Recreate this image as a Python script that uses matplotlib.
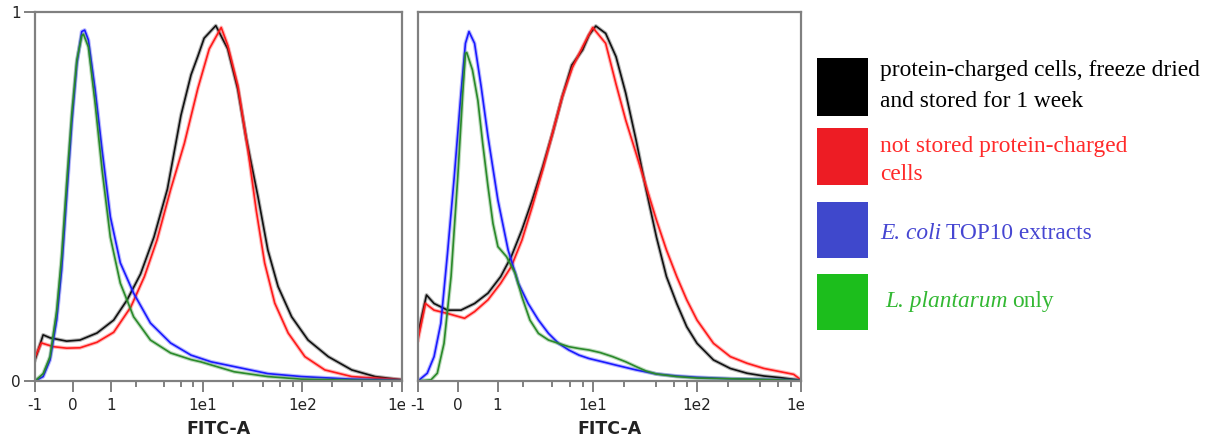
import matplotlib
matplotlib.use("Agg")
import matplotlib.pyplot as plt
import numpy as np
from matplotlib.patches import Rectangle
from matplotlib.transforms import Bbox, TransformedBbox

W, H = 1210, 442

"""FITC-A histograms (normalised counts), first sample set"""
a_black_x = [-1, -0.75, -0.56, -0.15, 0.16, 0.58, 1.08, 1.6, 2.27, 3.16, 4.36, 6.0, 7.6, 8.9, 10.3, 13.5,
             17.8, 22.5, 27.3, 35.8, 45, 57, 78, 114, 182, 313, 537, 1000]
a_black_y = [0.057, 0.125, 0.117, 0.108, 0.111, 0.130, 0.165, 0.22, 0.29, 0.39, 0.52, 0.72, 0.83, 0.88, 0.929,
             0.963, 0.90, 0.79, 0.658, 0.50, 0.355, 0.256, 0.174, 0.111, 0.066, 0.030, 0.012, 0.003]
a_red_x = [-1, -0.8, -0.47, -0.15, 0.16, 0.58, 1.08, 1.76, 2.5, 3.4, 4.7, 6.5, 8.9, 11.6, 15.3, 17.8, 22.5,
           28.4, 34.4, 41.8, 52.8, 72, 106, 168, 313, 1000]
a_red_y = [0.065, 0.103, 0.093, 0.089, 0.090, 0.105, 0.132, 0.20, 0.283, 0.382, 0.518, 0.644, 0.793, 0.90,
           0.958, 0.91, 0.80, 0.626, 0.463, 0.32, 0.211, 0.13, 0.066, 0.03, 0.012, 0.003]
a_blue_x = [-1, -0.75, -0.56, -0.39, -0.27, -0.15, -0.03, 0.086, 0.2, 0.27, 0.36, 0.53, 0.72, 0.97, 1.32,
            1.9, 2.9, 4.7, 7.6, 12.1, 20.7, 45, 98, 313, 1000]
a_blue_y = [0, 0.012, 0.057, 0.165, 0.30, 0.50, 0.70, 0.86, 0.947, 0.951, 0.924, 0.79, 0.626, 0.445, 0.32,
            0.238, 0.157, 0.103, 0.07, 0.052, 0.039, 0.02, 0.012, 0.005, 0.001]
a_green_x = [-1, -0.75, -0.56, -0.39, -0.27, -0.15, -0.03, 0.086, 0.2, 0.24, 0.36, 0.53, 0.72, 0.97, 1.32,
             1.9, 2.9, 4.7, 7.6, 9.5, 20.7, 45, 98, 313, 1000]
a_green_y = [0, 0.02, 0.066, 0.19, 0.337, 0.536, 0.726, 0.87, 0.935, 0.94, 0.905, 0.753, 0.572, 0.39, 0.265,
             0.174, 0.111, 0.076, 0.058, 0.052, 0.025, 0.012, 0.005, 0.002, 0.001]

"""second sample set"""
b_black_x = [-1, -0.75, -0.55, -0.23, 0.07, 0.38, 0.72, 1.1, 1.48, 1.95, 2.5, 3.2, 4.0, 5.0, 6.2, 7.9, 9.1,
             10.6, 13.2, 16.6, 20.6, 25.9, 32.4, 40.7, 50.8, 63.8, 79.6, 100, 144, 209, 303, 440, 637, 1000]
b_black_y = [0.129, 0.233, 0.21, 0.192, 0.192, 0.21, 0.238, 0.283, 0.337, 0.41, 0.49, 0.58, 0.67, 0.77, 0.856,
             0.897, 0.937, 0.962, 0.942, 0.879, 0.78, 0.653, 0.518, 0.39, 0.283, 0.21, 0.147, 0.102, 0.057,
             0.034, 0.021, 0.0135, 0.009, 0.002]
b_red_x = [-1, -0.78, -0.55, -0.23, 0.15, 0.38, 0.72, 1.1, 1.48, 1.95, 2.5, 3.2, 4.0, 5.0, 6.3, 7.9, 9.9,
           13.2, 16.6, 20.6, 25.9, 32.4, 40.7, 50.8, 63.8, 79.6, 100, 144, 209, 303, 440, 637, 850, 1000]
b_red_y = [0.111, 0.21, 0.192, 0.183, 0.17, 0.188, 0.22, 0.265, 0.31, 0.382, 0.472, 0.572, 0.67, 0.77, 0.85,
           0.906, 0.958, 0.915, 0.805, 0.707, 0.617, 0.527, 0.436, 0.355, 0.283, 0.22, 0.165, 0.102, 0.066,
           0.048, 0.034, 0.025, 0.018, 0.003]
b_blue_x = [-1, -0.73, -0.55, -0.385, -0.23, -0.078, 0.071, 0.17, 0.25, 0.38, 0.54, 0.72, 1.01, 1.36, 1.78,
            2.27, 2.9, 3.66, 4.6, 5.8, 7.3, 9.1, 13.2, 16.6, 25.9, 40.7, 63.8, 100, 209, 440, 1000]
b_blue_y = [0, 0.021, 0.066, 0.156, 0.346, 0.554, 0.78, 0.915, 0.947, 0.915, 0.798, 0.662, 0.49, 0.355, 0.265,
            0.21, 0.165, 0.129, 0.102, 0.084, 0.07, 0.061, 0.05, 0.043, 0.03, 0.019, 0.0135, 0.01, 0.006,
            0.004, 0.001]
b_green_x = [-1, -0.63, -0.47, -0.31, -0.15, 0.0, 0.11, 0.17, 0.2, 0.33, 0.46, 0.58, 0.72, 0.86, 1.01, 1.3,
             1.64, 1.95, 2.37, 2.9, 3.66, 4.6, 5.8, 7.3, 9.1, 11.7, 15.4, 20.6, 25.9, 32.4, 40.7, 63.8, 100,
             209, 440, 1000]
b_green_y = [0, 0.003, 0.021, 0.102, 0.283, 0.554, 0.78, 0.888, 0.89, 0.843, 0.76, 0.644, 0.527, 0.427,
             0.364, 0.337, 0.292, 0.228, 0.165, 0.129, 0.111, 0.102, 0.093, 0.088, 0.084, 0.077, 0.066,
             0.052, 0.039, 0.027, 0.019, 0.012, 0.008, 0.006, 0.004, 0.001]

major_ticks = [-1, 0, 1, 10, 100, 1000]
major_labels = ["-1", "0", "1", "1e1", "1e2", "1e3"]
minor_ticks = [2, 4, 6, 8, 20, 40, 60, 80, 200, 400, 600, 800]

# legend entries: italic species name (if any) followed by plain text lines
legend_italic = ["", "", "E. coli", "L. plantarum"]
legend_plain = [["protein-charged cells, freeze dried", "and stored for 1 week"],
                ["not stored protein-charged", "cells"],
                ["TOP10 extracts"],
                ["only"]]

line_colors = ["#111111", "#ff1a1a", "#1a1aff", "#2a8a2a"]
box_colors = ["#000000", "#ed1c24", "#3f48cc", "#1cbe1c"]
text_colors = ["#000000", "#ff2a2a", "#4646d2", "#33b833"]

fig = plt.figure(figsize=(W / 100, H / 100), dpi=100)
ax1 = fig.add_axes([35 / W, 1 - 381 / H, 367 / W, 369 / H])
ax2 = fig.add_axes([418 / W, 1 - 381 / H, 383 / W, 369 / H])

panels = [
    (ax1, [(a_black_x, a_black_y), (a_red_x, a_red_y), (a_blue_x, a_blue_y), (a_green_x, a_green_y)]),
    (ax2, [(b_black_x, b_black_y), (b_red_x, b_red_y), (b_blue_x, b_blue_y), (b_green_x, b_green_y)]),
]
grey = "#808080"
for ax, series in panels:
    # soft halo under a thin core line, like the cytometer export
    for (x, y), c in zip(series, line_colors):
        ax.plot(x, y, color=c, lw=2.8, alpha=0.3, solid_joinstyle="round")
        ax.plot(x, y, color=c, lw=1.2, solid_joinstyle="round")
    ax.set_xscale("function", functions=(np.arcsinh, np.sinh))
    ax.set_xlim(-1, 1000)
    ax.set_ylim(0, 1)
    ax.set_xticks(major_ticks)
    ax.set_xticklabels(major_labels)
    ax.set_xticks(minor_ticks, minor=True)
    ax.tick_params(axis="x", which="major", length=8, width=1.4, color=grey, pad=4,
                   labelsize=11, labelcolor="#222222")
    ax.tick_params(axis="x", which="minor", length=4.5, width=1.4, color=grey)
    for s in ax.spines.values():
        s.set_color(grey)
        s.set_linewidth(1.6)
    ax.set_xlabel("FITC-A", fontsize=12.5, fontweight="bold", color="#222222", labelpad=5)
    # last decade label runs into the next panel and is cut short
    lab = ax.get_xticklabels()[-1]
    x_end = ax.get_position().x1 + 3 / W
    lab.set_clip_box(TransformedBbox(Bbox([[0, 0], [x_end, 1]]), fig.transFigure))
    lab.set_clip_on(True)

ax1.set_yticks([0, 1])
ax1.set_yticklabels(["0", "1"])
ax1.tick_params(axis="y", length=8, width=1.4, color=grey, pad=2, labelsize=11, labelcolor="#222222")
ax2.set_yticks([])

"""Legend"""
box_tops = [58, 128, 202, 274]
box_h = [58, 57, 56, 56]
text_base = [[76, 107], [152, 180], [239], [307]]
text_x = [880, 880, 880, 885]
font = dict(fontsize=16.8, family="Liberation Serif", va="baseline", ha="left")
renderer = fig.canvas.get_renderer()
for i in range(4):
    fig.add_artist(Rectangle((817 / W, 1 - (box_tops[i] + box_h[i]) / H), 51 / W, box_h[i] / H,
                             transform=fig.transFigure, color=box_colors[i], lw=0))
    for j, line in enumerate(legend_plain[i]):
        x0 = text_x[i]
        y0 = 1 - text_base[i][j] / H
        if j == 0 and legend_italic[i]:
            t = fig.text(x0 / W, y0, legend_italic[i], style="italic", color=text_colors[i], **font)
            x0 = t.get_window_extent(renderer).x1 + 5
        fig.text(x0 / W, y0, line, color=text_colors[i], **font)

plt.savefig("out.png", dpi=100)
